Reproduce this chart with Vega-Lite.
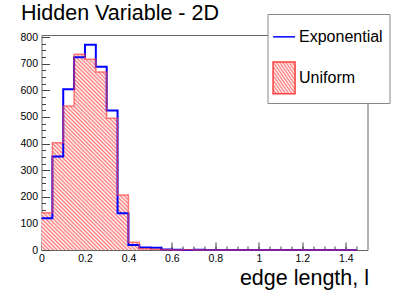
{
  "$schema": "https://vega.github.io/schema/vega-lite/v6.json",
  "width": 326,
  "height": 215,
  "autosize": "none",
  "padding": {"left": 41.5, "top": 35, "right": 43.5, "bottom": 45},
  "background": "white",
  "config": {
    "font": "Liberation Sans",
    "view": {"stroke": "#666666", "strokeWidth": 1},
    "axis": {"grid": false, "domain": false, "labelFont": "Liberation Sans", "labelFontSize": 10.5, "labelColor": "black", "tickColor": "#444444", "tickWidth": 1}
  },
  "title": {"text": "Hidden Variable - 2D", "anchor": "start", "frame": "group", "dx": -20.5, "dy": 28, "offset": 0, "baseline": "alphabetic", "fontSize": 21.5, "fontWeight": "normal", "color": "black", "font": "Liberation Sans"},
  "data": {"values": [
    {"lo": 0, "exp": 119, "uni": 140},
    {"lo": 0.05, "exp": 351, "uni": 403},
    {"lo": 0.1, "exp": 604, "uni": 541},
    {"lo": 0.15, "exp": 724, "uni": 736},
    {"lo": 0.2, "exp": 771, "uni": 717},
    {"lo": 0.25, "exp": 689, "uni": 669},
    {"lo": 0.3, "exp": 524, "uni": 495},
    {"lo": 0.35, "exp": 138, "uni": 207},
    {"lo": 0.4, "exp": 19, "uni": 29},
    {"lo": 0.45, "exp": 9, "uni": 5},
    {"lo": 0.5, "exp": 8, "uni": 3},
    {"lo": 0.55, "exp": 2, "uni": 1},
    {"lo": 0.6, "exp": 1, "uni": 0},
    {"lo": 0.65, "exp": 0, "uni": 1},
    {"lo": 0.7, "exp": 1, "uni": 0},
    {"lo": 0.75, "exp": 0, "uni": 0},
    {"lo": 0.8, "exp": 0, "uni": 0},
    {"lo": 0.85, "exp": 0, "uni": 0},
    {"lo": 0.9, "exp": 0, "uni": 0},
    {"lo": 0.95, "exp": 0, "uni": 0},
    {"lo": 1, "exp": 0, "uni": 0},
    {"lo": 1.05, "exp": 0, "uni": 0},
    {"lo": 1.1, "exp": 0, "uni": 0},
    {"lo": 1.15, "exp": 0, "uni": 0},
    {"lo": 1.2, "exp": 0, "uni": 0},
    {"lo": 1.25, "exp": 0, "uni": 0},
    {"lo": 1.3, "exp": 0, "uni": 0},
    {"lo": 1.35, "exp": 0, "uni": 0},
    {"lo": 1.4, "exp": 0, "uni": 0},
    {"lo": 1.45, "exp": 0, "uni": 0}
  ]},
  "resolve": {"axis": {"x": "independent", "y": "independent"}},
  "layer": [
    {
      "transform": [{"filter": "datum.lo <= 0.9"}],
      "mark": {"type": "area", "interpolate": "step-after", "opacity": 1,
        "fill": {"gradient": "linear", "x1": 0, "y1": 1, "x2": 1, "y2": 0, "stops": [
          {"offset": 0, "color": "#f77"}, {"offset": 0.005, "color": "#fff"},
          {"offset": 0.01, "color": "#f77"}, {"offset": 0.015, "color": "#fff"},
          {"offset": 0.02, "color": "#f77"}, {"offset": 0.025, "color": "#fff"},
          {"offset": 0.03, "color": "#f77"}, {"offset": 0.035, "color": "#fff"},
          {"offset": 0.04, "color": "#f77"}, {"offset": 0.045, "color": "#fff"},
          {"offset": 0.05, "color": "#f77"}, {"offset": 0.055, "color": "#fff"},
          {"offset": 0.06, "color": "#f77"}, {"offset": 0.065, "color": "#fff"},
          {"offset": 0.07, "color": "#f77"}, {"offset": 0.075, "color": "#fff"},
          {"offset": 0.08, "color": "#f77"}, {"offset": 0.085, "color": "#fff"},
          {"offset": 0.09, "color": "#f77"}, {"offset": 0.095, "color": "#fff"},
          {"offset": 0.1, "color": "#f77"}, {"offset": 0.105, "color": "#fff"},
          {"offset": 0.11, "color": "#f77"}, {"offset": 0.115, "color": "#fff"},
          {"offset": 0.12, "color": "#f77"}, {"offset": 0.125, "color": "#fff"},
          {"offset": 0.13, "color": "#f77"}, {"offset": 0.135, "color": "#fff"},
          {"offset": 0.14, "color": "#f77"}, {"offset": 0.145, "color": "#fff"},
          {"offset": 0.15, "color": "#f77"}, {"offset": 0.155, "color": "#fff"},
          {"offset": 0.16, "color": "#f77"}, {"offset": 0.165, "color": "#fff"},
          {"offset": 0.17, "color": "#f77"}, {"offset": 0.175, "color": "#fff"},
          {"offset": 0.18, "color": "#f77"}, {"offset": 0.185, "color": "#fff"},
          {"offset": 0.19, "color": "#f77"}, {"offset": 0.195, "color": "#fff"},
          {"offset": 0.2, "color": "#f77"}, {"offset": 0.205, "color": "#fff"},
          {"offset": 0.21, "color": "#f77"}, {"offset": 0.215, "color": "#fff"},
          {"offset": 0.22, "color": "#f77"}, {"offset": 0.225, "color": "#fff"},
          {"offset": 0.23, "color": "#f77"}, {"offset": 0.235, "color": "#fff"},
          {"offset": 0.24, "color": "#f77"}, {"offset": 0.245, "color": "#fff"},
          {"offset": 0.25, "color": "#f77"}, {"offset": 0.255, "color": "#fff"},
          {"offset": 0.26, "color": "#f77"}, {"offset": 0.265, "color": "#fff"},
          {"offset": 0.27, "color": "#f77"}, {"offset": 0.275, "color": "#fff"},
          {"offset": 0.28, "color": "#f77"}, {"offset": 0.285, "color": "#fff"},
          {"offset": 0.29, "color": "#f77"}, {"offset": 0.295, "color": "#fff"},
          {"offset": 0.3, "color": "#f77"}, {"offset": 0.305, "color": "#fff"},
          {"offset": 0.31, "color": "#f77"}, {"offset": 0.315, "color": "#fff"},
          {"offset": 0.32, "color": "#f77"}, {"offset": 0.325, "color": "#fff"},
          {"offset": 0.33, "color": "#f77"}, {"offset": 0.335, "color": "#fff"},
          {"offset": 0.34, "color": "#f77"}, {"offset": 0.345, "color": "#fff"},
          {"offset": 0.35, "color": "#f77"}, {"offset": 0.355, "color": "#fff"},
          {"offset": 0.36, "color": "#f77"}, {"offset": 0.365, "color": "#fff"},
          {"offset": 0.37, "color": "#f77"}, {"offset": 0.375, "color": "#fff"},
          {"offset": 0.38, "color": "#f77"}, {"offset": 0.385, "color": "#fff"},
          {"offset": 0.39, "color": "#f77"}, {"offset": 0.395, "color": "#fff"},
          {"offset": 0.4, "color": "#f77"}, {"offset": 0.405, "color": "#fff"},
          {"offset": 0.41, "color": "#f77"}, {"offset": 0.415, "color": "#fff"},
          {"offset": 0.42, "color": "#f77"}, {"offset": 0.425, "color": "#fff"},
          {"offset": 0.43, "color": "#f77"}, {"offset": 0.435, "color": "#fff"},
          {"offset": 0.44, "color": "#f77"}, {"offset": 0.445, "color": "#fff"},
          {"offset": 0.45, "color": "#f77"}, {"offset": 0.455, "color": "#fff"},
          {"offset": 0.46, "color": "#f77"}, {"offset": 0.465, "color": "#fff"},
          {"offset": 0.47, "color": "#f77"}, {"offset": 0.475, "color": "#fff"},
          {"offset": 0.48, "color": "#f77"}, {"offset": 0.485, "color": "#fff"},
          {"offset": 0.49, "color": "#f77"}, {"offset": 0.495, "color": "#fff"},
          {"offset": 0.5, "color": "#f77"}, {"offset": 0.505, "color": "#fff"},
          {"offset": 0.51, "color": "#f77"}, {"offset": 0.515, "color": "#fff"},
          {"offset": 0.52, "color": "#f77"}, {"offset": 0.525, "color": "#fff"},
          {"offset": 0.53, "color": "#f77"}, {"offset": 0.535, "color": "#fff"},
          {"offset": 0.54, "color": "#f77"}, {"offset": 0.545, "color": "#fff"},
          {"offset": 0.55, "color": "#f77"}, {"offset": 0.555, "color": "#fff"},
          {"offset": 0.56, "color": "#f77"}, {"offset": 0.565, "color": "#fff"},
          {"offset": 0.57, "color": "#f77"}, {"offset": 0.575, "color": "#fff"},
          {"offset": 0.58, "color": "#f77"}, {"offset": 0.585, "color": "#fff"},
          {"offset": 0.59, "color": "#f77"}, {"offset": 0.595, "color": "#fff"},
          {"offset": 0.6, "color": "#f77"}, {"offset": 0.605, "color": "#fff"},
          {"offset": 0.61, "color": "#f77"}, {"offset": 0.615, "color": "#fff"},
          {"offset": 0.62, "color": "#f77"}, {"offset": 0.625, "color": "#fff"},
          {"offset": 0.63, "color": "#f77"}, {"offset": 0.635, "color": "#fff"},
          {"offset": 0.64, "color": "#f77"}, {"offset": 0.645, "color": "#fff"},
          {"offset": 0.65, "color": "#f77"}, {"offset": 0.655, "color": "#fff"},
          {"offset": 0.66, "color": "#f77"}, {"offset": 0.665, "color": "#fff"},
          {"offset": 0.67, "color": "#f77"}, {"offset": 0.675, "color": "#fff"},
          {"offset": 0.68, "color": "#f77"}, {"offset": 0.685, "color": "#fff"},
          {"offset": 0.69, "color": "#f77"}, {"offset": 0.695, "color": "#fff"},
          {"offset": 0.7, "color": "#f77"}, {"offset": 0.705, "color": "#fff"},
          {"offset": 0.71, "color": "#f77"}, {"offset": 0.715, "color": "#fff"},
          {"offset": 0.72, "color": "#f77"}, {"offset": 0.725, "color": "#fff"},
          {"offset": 0.73, "color": "#f77"}, {"offset": 0.735, "color": "#fff"},
          {"offset": 0.74, "color": "#f77"}, {"offset": 0.745, "color": "#fff"},
          {"offset": 0.75, "color": "#f77"}, {"offset": 0.755, "color": "#fff"},
          {"offset": 0.76, "color": "#f77"}, {"offset": 0.765, "color": "#fff"},
          {"offset": 0.77, "color": "#f77"}, {"offset": 0.775, "color": "#fff"},
          {"offset": 0.78, "color": "#f77"}, {"offset": 0.785, "color": "#fff"},
          {"offset": 0.79, "color": "#f77"}, {"offset": 0.795, "color": "#fff"},
          {"offset": 0.8, "color": "#f77"}, {"offset": 0.805, "color": "#fff"},
          {"offset": 0.81, "color": "#f77"}, {"offset": 0.815, "color": "#fff"},
          {"offset": 0.82, "color": "#f77"}, {"offset": 0.825, "color": "#fff"},
          {"offset": 0.83, "color": "#f77"}, {"offset": 0.835, "color": "#fff"},
          {"offset": 0.84, "color": "#f77"}, {"offset": 0.845, "color": "#fff"},
          {"offset": 0.85, "color": "#f77"}, {"offset": 0.855, "color": "#fff"},
          {"offset": 0.86, "color": "#f77"}, {"offset": 0.865, "color": "#fff"},
          {"offset": 0.87, "color": "#f77"}, {"offset": 0.875, "color": "#fff"},
          {"offset": 0.88, "color": "#f77"}, {"offset": 0.885, "color": "#fff"},
          {"offset": 0.89, "color": "#f77"}, {"offset": 0.895, "color": "#fff"},
          {"offset": 0.9, "color": "#f77"}, {"offset": 0.905, "color": "#fff"},
          {"offset": 0.91, "color": "#f77"}, {"offset": 0.915, "color": "#fff"},
          {"offset": 0.92, "color": "#f77"}, {"offset": 0.925, "color": "#fff"},
          {"offset": 0.93, "color": "#f77"}, {"offset": 0.935, "color": "#fff"},
          {"offset": 0.94, "color": "#f77"}, {"offset": 0.945, "color": "#fff"},
          {"offset": 0.95, "color": "#f77"}, {"offset": 0.955, "color": "#fff"},
          {"offset": 0.96, "color": "#f77"}, {"offset": 0.965, "color": "#fff"},
          {"offset": 0.97, "color": "#f77"}, {"offset": 0.975, "color": "#fff"},
          {"offset": 0.98, "color": "#f77"}, {"offset": 0.985, "color": "#fff"},
          {"offset": 0.99, "color": "#f77"}, {"offset": 0.995, "color": "#fff"},
          {"offset": 1, "color": "#f77"}
        ]}},
      "encoding": {
        "x": {"field": "lo", "type": "quantitative", "scale": {"domain": [0, 1.5], "nice": false, "zero": false},
          "axis": {"orient": "bottom", "values": [0, 0.2, 0.4, 0.6, 0.8, 1, 1.2, 1.4], "format": "~g", "ticks": false, "labelPadding": 3, "labelFlush": false,
            "title": "edge length, l", "titleFont": "Liberation Sans", "titleFontSize": 21.5, "titleFontWeight": "normal", "titleColor": "black", "titleAlign": "right", "titleAnchor": "end", "titleBaseline": "alphabetic", "titleX": 327, "titleY": 34}},
        "y": {"field": "uni", "type": "quantitative", "scale": {"domain": [0, 808], "nice": false},
          "axis": {"orient": "left", "values": [0, 100, 200, 300, 400, 500, 600, 700, 800], "ticks": false, "labelPadding": 4, "labelFlush": false, "title": null}}
      }
    },
    {
      "mark": {"type": "line", "interpolate": "step-after", "strokeWidth": 2, "color": "#0000ff"},
      "encoding": {
        "x": {"field": "lo", "type": "quantitative",
          "axis": {"orient": "bottom", "values": [0, 0.2, 0.4, 0.6, 0.8, 1, 1.2, 1.4], "labels": false, "tickSize": -8, "title": null}},
        "y": {"field": "exp", "type": "quantitative",
          "axis": {"orient": "left", "values": [0, 100, 200, 300, 400, 500, 600, 700, 800], "labels": false, "tickSize": -8, "title": null}},
        "color": {"datum": "Exponential", "type": "nominal",
          "scale": {"domain": ["Exponential", "Uniform"], "range": ["#0000ff", "#ff4040"]},
          "legend": {
            "orient": "none", "legendX": 226, "legendY": -21, "title": null,
            "fillColor": "white", "strokeColor": "#888888", "padding": 5.85, "rowPadding": 14,
            "labelFont": "Liberation Sans", "labelFontSize": 16, "labelColor": "black", "labelOffset": -8.3, "labelLimit": 200,
            "symbolSize": 1005,
            "encode": {"symbols": {"update": {
              "shape": {"signal": "datum.value === 'Uniform' ? 'M-1.09,-1H0.298V1H-1.09Z' : 'M-1.09,0H0.298'"},
              "fill": [
                {"test": "datum.value === 'Uniform'", "value": {"gradient": "linear", "x1": 0, "y1": 1, "x2": 1, "y2": 0, "stops": [
                  {"offset": 0, "color": "#f77"}, {"offset": 0.0357, "color": "#fff"},
                  {"offset": 0.0714, "color": "#f77"}, {"offset": 0.1071, "color": "#fff"},
                  {"offset": 0.1429, "color": "#f77"}, {"offset": 0.1786, "color": "#fff"},
                  {"offset": 0.2143, "color": "#f77"}, {"offset": 0.25, "color": "#fff"},
                  {"offset": 0.2857, "color": "#f77"}, {"offset": 0.3214, "color": "#fff"},
                  {"offset": 0.3571, "color": "#f77"}, {"offset": 0.3929, "color": "#fff"},
                  {"offset": 0.4286, "color": "#f77"}, {"offset": 0.4643, "color": "#fff"},
                  {"offset": 0.5, "color": "#f77"}, {"offset": 0.5357, "color": "#fff"},
                  {"offset": 0.5714, "color": "#f77"}, {"offset": 0.6071, "color": "#fff"},
                  {"offset": 0.6429, "color": "#f77"}, {"offset": 0.6786, "color": "#fff"},
                  {"offset": 0.7143, "color": "#f77"}, {"offset": 0.75, "color": "#fff"},
                  {"offset": 0.7857, "color": "#f77"}, {"offset": 0.8214, "color": "#fff"},
                  {"offset": 0.8571, "color": "#f77"}, {"offset": 0.8929, "color": "#fff"},
                  {"offset": 0.9286, "color": "#f77"}, {"offset": 0.9643, "color": "#fff"},
                  {"offset": 1, "color": "#f77"}
                ]}},
                {"value": "transparent"}
              ],
              "stroke": {"signal": "datum.value === 'Uniform' ? '#ff5c5c' : '#0000ff'"},
              "strokeWidth": {"value": 1.5},
              "opacity": {"value": 1}
            }}}
          }}
      }
    },
    {
      "mark": {"type": "line", "interpolate": "step-after", "strokeWidth": 1.5, "opacity": 0.65},
      "encoding": {
        "x": {"field": "lo", "type": "quantitative",
          "axis": {"orient": "bottom", "values": [0, 0.05, 0.1, 0.15, 0.2, 0.25, 0.3, 0.35, 0.4, 0.45, 0.5, 0.55, 0.6, 0.65, 0.7, 0.75, 0.8, 0.85, 0.9, 0.95, 1, 1.05, 1.1, 1.15, 1.2, 1.25, 1.3, 1.35, 1.4, 1.45], "labels": false, "tickSize": -4, "title": null}},
        "y": {"field": "uni", "type": "quantitative",
          "axis": {"orient": "left", "values": [0, 25, 50, 75, 100, 125, 150, 175, 200, 225, 250, 275, 300, 325, 350, 375, 400, 425, 450, 475, 500, 525, 550, 575, 600, 625, 650, 675, 700, 725, 750, 775, 800], "labels": false, "tickSize": -4, "title": null}},
        "color": {"datum": "Uniform", "type": "nominal"}
      }
    }
  ]
}
